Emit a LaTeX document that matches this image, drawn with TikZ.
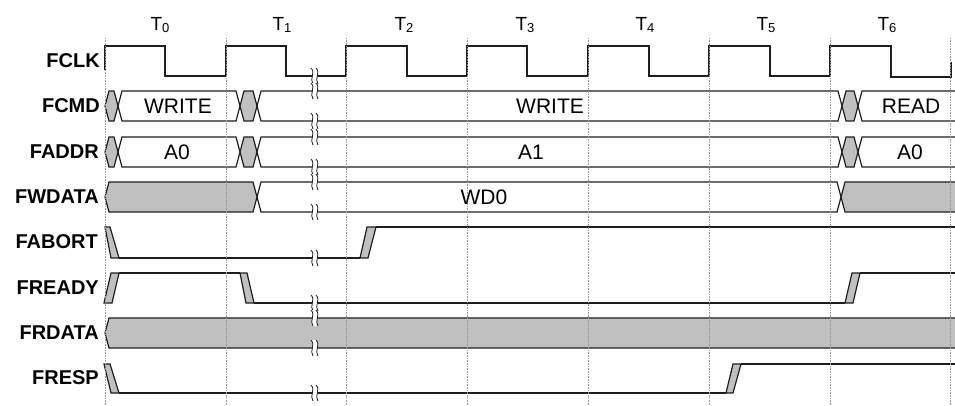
\documentclass[tikz,border=0pt]{standalone}
\usepackage{fontspec}
\setmainfont{Liberation Sans}
\definecolor{busgray}{RGB}{192,192,192}
\definecolor{sigline}{RGB}{30,30,30}
\newcommand\tdbreak[1]{%
  \fill[white] (311,#1-8) .. controls (316,#1-3) and (309,#1+3) .. (313,#1+8)
     -- (318,#1+8) .. controls (314,#1+3) and (321,#1-3) .. (316,#1-8) -- cycle;
  \draw[sigline, line width=0.8pt] (311,#1-8) .. controls (316,#1-3) and (309,#1+3) .. (313,#1+8);
  \draw[sigline, line width=0.8pt] (316,#1-8) .. controls (321,#1-3) and (314,#1+3) .. (318,#1+8);
}
\newcommand\cmdrow[3]{%
  \filldraw[bus] (105,#2)--(109,#1)--(114,#1)--(118,#2)--(114,#3)--(109,#3)--cycle;
  \draw[sig] (118,#2)--(122,#1)--(236,#1)--(240,#2)--(236,#3)--(122,#3)--cycle;
  \filldraw[bus] (240,#2)--(244,#1)--(253,#1)--(257,#2)--(253,#3)--(244,#3)--cycle;
  \draw[sig] (257,#2)--(261,#1)--(838,#1)--(842,#2)--(838,#3)--(261,#3)--cycle;
  \filldraw[bus] (842,#2)--(846,#1)--(854,#1)--(858,#2)--(854,#3)--(846,#3)--cycle;
  \draw[sig] (956,#1)--(862,#1)--(858,#2)--(862,#3)--(956,#3);
  \tdbreak{#1}\tdbreak{#3}%
}
\begin{document}
\begin{tikzpicture}[x=1pt,y=-1pt,
  sig/.style={line width=1.2pt, draw=sigline, line join=miter},
  bus/.style={sig, fill=busgray},
  edge/.style={sig, fill=busgray},
  gridln/.style={densely dotted, draw=gray!80, line width=0.6pt},
  lbl/.style={anchor=east, inner sep=0pt, font=\fontsize{20}{20}\selectfont\bfseries},
  txt/.style={inner sep=0pt, font=\fontsize{21}{21}\selectfont},
  tlab/.style={inner sep=0pt, anchor=base, font=\fontsize{19}{19}\selectfont}]
\useasboundingbox (0,0) rectangle (955,405);
\fill[white] (0,0) rectangle (955,405);

% clock phase labels
\node[tlab] (t0) at (160,30) {T\raisebox{-2pt}{\fontsize{13}{13}\selectfont 0}};
\node[tlab] (t1) at (282,30) {T\raisebox{-2pt}{\fontsize{13}{13}\selectfont 1}};
\node[tlab] (t2) at (404,30) {T\raisebox{-2pt}{\fontsize{13}{13}\selectfont 2}};
\node[tlab] (t3) at (525,30) {T\raisebox{-2pt}{\fontsize{13}{13}\selectfont 3}};
\node[tlab] (t4) at (645,30) {T\raisebox{-2pt}{\fontsize{13}{13}\selectfont 4}};
\node[tlab] (t5) at (766,30) {T\raisebox{-2pt}{\fontsize{13}{13}\selectfont 5}};
\node[tlab] (t6) at (887,30) {T\raisebox{-2pt}{\fontsize{13}{13}\selectfont 6}};

% signal names
\node[lbl] (nclk) at (100,61) {FCLK};
\node[lbl] (ncmd) at (100,106) {FCMD};
\node[lbl] (naddr) at (99,152) {FADDR};
\node[lbl] (nwdata) at (99,197) {FWDATA};
\node[lbl] (nabort) at (98,242) {FABORT};
\node[lbl] (nready) at (99,288) {FREADY};
\node[lbl] (nrdata) at (99,333) {FRDATA};
\node[lbl] (nresp) at (99,378) {FRESP};

% FCLK
\draw[sig] (105,70)--(105,46)--(165,46)--(165,76)--(226,76)--(226,46)--(286,46)--(286,76)
  --(346,76)--(346,46)--(407,46)--(407,76)--(467,76)--(467,46)--(527,46)--(527,76)
  --(588,76)--(588,46)--(649,46)--(649,76)--(709,76)--(709,46)--(770,46)--(770,76)
  --(830,76)--(830,46)--(891,46)--(891,77)--(951,77)--(951,62);
\tdbreak{76}

% FCMD and FADDR
\cmdrow{91}{106}{121}
\cmdrow{137}{152}{167}

% FWDATA
\filldraw[bus] (105,197)--(109,182)--(253,182)--(257,197)--(253,212)--(109,212)--cycle;
\draw[sig] (257,197)--(261,182)--(837,182)--(841,197)--(837,212)--(261,212)--cycle;
\fill[busgray] (841,197)--(845,182)--(956,182)--(956,212)--(845,212)--cycle;
\draw[sig] (956,182)--(845,182)--(841,197)--(845,212)--(956,212);
\tdbreak{182}\tdbreak{212}

% FABORT
\filldraw[edge] (105,227)--(110,227)--(119,258)--(111,258)--cycle;
\draw[sig] (119,258)--(360,258);
\filldraw[edge] (360,258)--(368,258)--(376,227)--(367,227)--cycle;
\draw[sig] (376,227)--(956,227);
\tdbreak{258}

% FREADY
\filldraw[edge] (104,303)--(112,303)--(119,273)--(111,273)--cycle;
\draw[sig] (119,273)--(240,273);
\filldraw[edge] (240,273)--(247,273)--(254,303)--(246,303)--cycle;
\draw[sig] (254,303)--(845,303);
\filldraw[edge] (845,303)--(853,303)--(860,273)--(852,273)--cycle;
\draw[sig] (860,273)--(956,273);
\tdbreak{303}

% FRDATA
\fill[busgray] (105,333)--(109,318)--(956,318)--(956,348)--(109,348)--cycle;
\draw[sig] (956,318)--(109,318)--(105,333)--(109,348)--(956,348);
\tdbreak{318}\tdbreak{348}

% FRESP
\filldraw[edge] (104,364)--(110,364)--(119,393)--(111,393)--cycle;
\draw[sig] (119,393)--(726,393);
\filldraw[edge] (726,393)--(733,393)--(741,364)--(733,364)--cycle;
\draw[sig] (741,364)--(956,364);
\tdbreak{393}

% grid
\foreach \x in {105,226,346,467,588,709,830,950}
  \draw[gridln] (\x,38)--(\x,405);

% bus values
\node[txt] (vcmd0) at (178,106) {WRITE};
\node[txt] (vcmd1) at (550,106) {WRITE};
\node[txt] (vcmd2) at (911,106) {READ};
\node[txt] (vaddr0) at (177,152) {A0};
\node[txt] (vaddr1) at (531,152) {A1};
\node[txt] (vaddr2) at (910,152) {A0};
\node[txt] (vwd) at (484,197) {WD0};
\end{tikzpicture}
\end{document}
